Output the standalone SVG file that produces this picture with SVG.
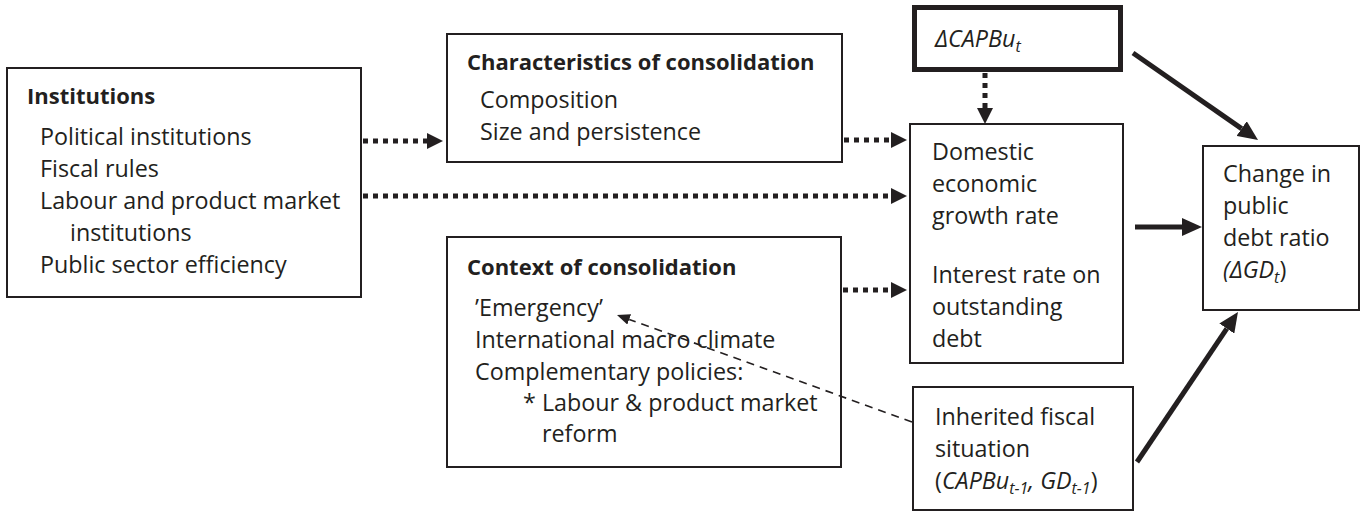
<svg xmlns="http://www.w3.org/2000/svg" width="1370" height="516" viewBox="0 0 1370 516">
<style>
.box{fill:#fff;stroke:#231f20;stroke-width:2}
.thick{fill:#fff;stroke:#231f20;stroke-width:5}
text{font-family:"Open Sans","Noto Sans",sans-serif;font-size:23.3px;fill:#231f20}
.b{font-weight:bold;font-size:22px}
.i{font-style:italic}
.dot{stroke:#231f20;stroke-width:5;stroke-dasharray:5 5;fill:none}
.sol{stroke:#231f20;stroke-width:5;fill:none}
.dash{stroke:#231f20;stroke-width:1.6;stroke-dasharray:8 6;fill:none}
</style>
<defs>
<marker id="ah" markerUnits="userSpaceOnUse" markerWidth="16" markerHeight="16" refX="0" refY="8" orient="auto" viewBox="0 0 16 16"><path d="M0,0 L16,8 L0,16 z" fill="#231f20"/></marker>
<marker id="ahs" markerUnits="userSpaceOnUse" markerWidth="20" markerHeight="18" refX="0" refY="9" orient="auto" viewBox="0 0 20 18"><path d="M0,0 L20,9 L0,18 z" fill="#231f20"/></marker>
<marker id="ahd" markerUnits="userSpaceOnUse" markerWidth="13" markerHeight="11" refX="0" refY="5.5" orient="auto" viewBox="0 0 13 11"><path d="M0,0 L13,5.5 L0,11 z" fill="#231f20"/></marker>
</defs>

<g id="institutions">
<rect class="box" x="7" y="68" width="354" height="229"/>
<text class="b" x="27" y="104">Institutions</text>
<text x="40" y="145">Political institutions</text>
<text x="40" y="177">Fiscal rules</text>
<text x="40" y="209">Labour and product market</text>
<text x="70" y="241">institutions</text>
<text x="40" y="273">Public sector efficiency</text>
</g>

<g id="characteristics">
<rect class="box" x="447" y="34" width="395" height="128"/>
<text class="b" x="467" y="70">Characteristics of consolidation</text>
<text x="480" y="108">Composition</text>
<text x="480" y="140">Size and persistence</text>
</g>

<g id="context">
<rect class="box" x="447" y="237" width="394" height="230"/>
<text class="b" x="467" y="275">Context of consolidation</text>
<text x="475" y="316">’Emergency’</text>
<text x="475" y="348">International macro climate</text>
<text x="475" y="380">Complementary policies:</text>
<text x="523" y="411">* Labour &amp; product market</text>
<text x="542" y="442">reform</text>
</g>

<g id="dcapbu">
<rect class="thick" x="914.5" y="7.5" width="206" height="62"/>
<text x="935" y="47"><tspan class="i">ΔCAPBu</tspan><tspan class="i" font-size="16" dy="5">t</tspan></text>
</g>

<g id="domestic">
<rect class="box" x="910" y="124" width="213" height="239"/>
<text x="932" y="160">Domestic</text>
<text x="932" y="192">economic</text>
<text x="932" y="224">growth rate</text>
<text x="932" y="283">Interest rate on</text>
<text x="932" y="315">outstanding</text>
<text x="932" y="347">debt</text>
</g>

<g id="change">
<rect class="box" x="1203" y="146" width="156" height="164"/>
<text x="1223" y="182">Change in</text>
<text x="1223" y="214">public</text>
<text x="1223" y="246">debt ratio</text>
<text x="1223" y="278"><tspan class="i">(ΔGD</tspan><tspan class="i" font-size="16" dy="5">t</tspan><tspan dy="-5">)</tspan></text>
</g>

<g id="inherited">
<rect class="box" x="913" y="387" width="220" height="123"/>
<text x="935" y="425">Inherited fiscal</text>
<text x="935" y="457">situation</text>
<text x="935" y="489">(<tspan class="i">CAPBu</tspan><tspan class="i" font-size="16" dy="5">t-1</tspan><tspan class="i" dy="-5">, GD</tspan><tspan class="i" font-size="16" dy="5">t-1</tspan><tspan dy="-5">)</tspan></text>
</g>

<g id="connectors">
<line class="dot" x1="363" y1="141" x2="427" y2="141" marker-end="url(#ah)"/>
<line class="dot" x1="844" y1="140" x2="891" y2="140" marker-end="url(#ah)"/>
<line class="dot" x1="363" y1="196" x2="891" y2="196" marker-end="url(#ah)"/>
<line class="dot" x1="843" y1="290" x2="891" y2="290" marker-end="url(#ah)"/>
<line class="dot" x1="985" y1="73" x2="985" y2="108" marker-end="url(#ah)"/>
<line class="sol" x1="1133" y1="53" x2="1241.6" y2="128.6" marker-end="url(#ahs)"/>
<line class="sol" x1="1135" y1="227" x2="1182" y2="227" marker-end="url(#ahs)"/>
<line class="sol" x1="1137" y1="462" x2="1226.8" y2="328.6" marker-end="url(#ahs)"/>
<line class="dash" x1="912" y1="422" x2="629.2" y2="319.4" marker-end="url(#ahd)"/>
</g>
</svg>
